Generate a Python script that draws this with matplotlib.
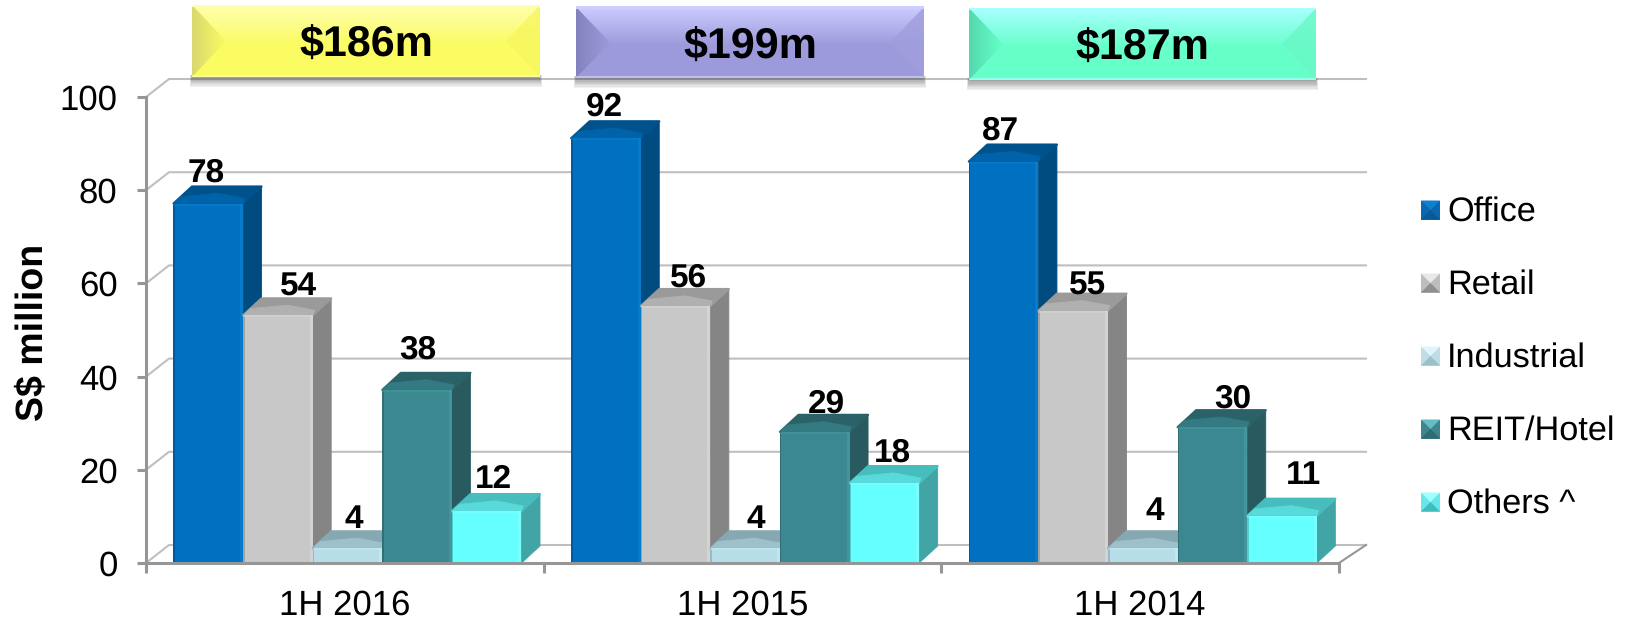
#!/usr/bin/env python3
"""Revenue by segment, 3D look column chart with banner totals."""
import numpy as np
import matplotlib; matplotlib.use("Agg")
import matplotlib.pyplot as plt
from matplotlib.patches import Polygon, Rectangle

plt.rcParams["font.family"] = ["Liberation Sans", "DejaVu Sans"]
plt.rcParams["text.hinting"] = "no_hinting"

periods = ["1H 2016", "1H 2015", "1H 2014"]
totals = ["$186m", "$199m", "$187m"]
segments = ["Office", "Retail", "Industrial", "REIT/Hotel", "Others ^"]
office = [78, 92, 87]
retail = [54, 56, 55]
industrial = [4, 4, 4]
reit_hotel = [38, 29, 30]
others = [12, 18, 11]
series = [office, retail, industrial, reit_hotel, others]
y_ticks = [0, 20, 40, 60, 80, 100]

# front, side, top back, top front, edge highlight
BAR_COL = [("#0070C0", "#004B80", "#00528C", "#0062A8", "#0A80D0"),
           ("#C8C8C8", "#858585", "#9A9A9A", "#B0B0B0", "#D8D8D8"),
           ("#B7DEE8", "#7AA0AB", "#85A8B3", "#9DC0CA", "#C8EAF2"),
           ("#3C8890", "#285A60", "#2B6268", "#347A82", "#479AA2"),
           ("#66FFFF", "#42A5A5", "#48BDBD", "#58DADA", "#80FFFF")]
LEG_COL = [("#0F7FD0", "#0A5A98", "#0868B0"), ("#E8E8E8", "#8F8F8F", "#BDBDBD"),
           ("#E2F4F8", "#9CC0CA", "#BFDDE5"), ("#66BDC2", "#2F6B72", "#3F858C"),
           ("#A0FFFF", "#3FBDBD", "#66E8E8")]
# label nudges in pixels (x, y above the front top of each bar), by period then segment
LABEL_DX = [[-2, 21, 6, 1, 7], [-2, 13, 11, 12, 8], [-3, 14, 12, 20, 21]]
LABEL_DY = [[30, 28, 29, 40, 32], [31, 28, 29, 28, 30], [30, 25, 37, 28, 40]]

BANNERS = [(192, 5, 540, 77, "#FFFFB0", "#FBFB62", "#D8D870", "#F6F660"),
           (576, 7, 924, 78, "#CDCDFF", "#9C9ADB", "#8482BE", "#A09EDC"),
           (969, 8, 1316, 80, "#A8FFFF", "#66FFC8", "#55D8AE", "#69F8C6")]

W, H = 1631, 620
AX_L, AX_R, AX_T, AX_B = 146, 1339, 97, 563
PX_X = (AX_R - AX_L) / 3
PX_Y = (AX_B - AX_T) / 100

fig = plt.figure(figsize=(W / 100, H / 100), dpi=100, facecolor="white")
ax = fig.add_axes([AX_L / W, 1 - AX_B / H, (AX_R - AX_L) / W, (AX_B - AX_T) / H])

BAR_W = 69.6 / PX_X
GROUP_PAD = 27.5 / PX_X
DEPTH_X = 18.5 / PX_X
DEPTH_Y = 17 / PX_Y
DROP = 4 / PX_Y
WALL_X = 23 / PX_X
WALL_Y = 18 / PX_Y
WALL_R = 27 / PX_X
GRID = "#BFBFBF"
AXC = "#969696"

# back wall and left wall
for v in y_ticks:
    ax.plot([0, WALL_X, 3 + WALL_R], [v, v + WALL_Y, v + WALL_Y], color=GRID, lw=1.5, zorder=1, clip_on=False)
ax.plot([3, 3 + WALL_R], [0, WALL_Y], color=AXC, lw=1.5, zorder=1, clip_on=False)

def poly(pts, col, z, lw=0.6):
    ax.add_patch(Polygon(pts, closed=True, facecolor=col, edgecolor=col, lw=lw, joinstyle="round", zorder=z, clip_on=False))

z = 2.0
for g, per in enumerate(periods):
    for s, vals in enumerate(series):
        front, side, top_b, top_f, hi = BAR_COL[s]
        v = vals[g]
        x0 = g + GROUP_PAD + s * BAR_W
        x1 = x0 + BAR_W
        t = v - DROP
        # side and top first, the front goes over them
        poly([(x1, 0), (x1 + DEPTH_X, DEPTH_Y), (x1 + DEPTH_X, t + DEPTH_Y), (x1, t)], side, z)
        poly([(x0, t), (x1, t), (x1 + DEPTH_X, t + DEPTH_Y), (x0 + DEPTH_X, t + DEPTH_Y)], top_b, z + 0.01, lw=1.6)
        poly([(x0, t), (x1, t), (x1 + 0.1 * DEPTH_X, t + 0.3 * DEPTH_Y), (x0 + 0.5 * BAR_W + 0.5 * DEPTH_X, t + 0.6 * DEPTH_Y), (x0 + 0.4 * DEPTH_X, t + 0.4 * DEPTH_Y)], top_f, z + 0.02)
        ax.bar(x0, t, BAR_W, align="edge", color=front, linewidth=0, zorder=z + 0.03)
        # bevel strips on the front face
        ax.bar(x1 - 3 / PX_X, t, 3 / PX_X, align="edge", color=hi, alpha=0.7, linewidth=0, zorder=z + 0.04)
        ax.bar(x0, t, 1.5 / PX_X, align="edge", color=side, alpha=0.55, linewidth=0, zorder=z + 0.04)
        ax.bar(x0, 2 / PX_Y, BAR_W, bottom=t - 2 / PX_Y, align="edge", color=hi, alpha=0.45, linewidth=0, zorder=z + 0.04)
        z += 0.1

# data labels on top of everything
for g in range(len(periods)):
    for s, vals in enumerate(series):
        xc = g + GROUP_PAD + (s + 0.5) * BAR_W
        ax.annotate(str(vals[g]), xy=(xc, vals[g] - DROP), xytext=(LABEL_DX[g][s] * 0.72, LABEL_DY[g][s] * 0.72),
                    textcoords="offset points", ha="center", va="center", fontsize=24, fontweight="bold",
                    color="black", zorder=20, annotation_clip=False)

ax.set_xlim(0, 3); ax.set_ylim(0, 100)
ax.patch.set_alpha(0)
for sp in ("top", "right"):
    ax.spines[sp].set_visible(False)
for sp in ("left", "bottom"):
    ax.spines[sp].set_color(AXC); ax.spines[sp].set_linewidth(2.2); ax.spines[sp].set_zorder(15)
ax.set_yticks(y_ticks)
ax.tick_params(axis="y", length=6.5, width=2.2, color=AXC, labelsize=25, pad=14)
ax.set_xticks([0, 1, 2, 3]); ax.set_xticklabels([])
ax.tick_params(axis="x", which="major", length=7.5, width=2.2, color=AXC)
ax.set_xticks([0.5, 1.5, 2.5], minor=True); ax.set_xticklabels(periods, minor=True)
ax.tick_params(axis="x", which="minor", length=0, labelsize=25, pad=19)
ax.set_ylabel("S$ million", fontsize=27, fontweight="bold")
ax.yaxis.set_label_coords((51 - AX_L) / (AX_R - AX_L), (AX_B - 332) / (AX_B - AX_T))

# overlay in pixel coordinates for banners and legend
ov = fig.add_axes([0, 0, 1, 1], zorder=5)
ov.patch.set_alpha(0); ov.axis("off")

def grad(c0, c1, n=64):
    a = np.array(matplotlib.colors.to_rgb(c0)); b = np.array(matplotlib.colors.to_rgb(c1))
    return a + (b - a) * np.linspace(0, 1, n)[:, None]

for (x0, y0, x1, y1, c_top, c_mid, c_left, c_right), label in zip(BANNERS, totals):
    for k in range(8):
        ov.add_patch(Rectangle((x0 - 2 + k * 0.3, y1 - 2), x1 - x0 + 4 - k * 0.6, 12 - k * 1.3, facecolor="#404040", alpha=0.07, lw=0, zorder=1))
    img = grad(c_top, c_mid)[:, None, :]
    ov.imshow(img, extent=(x0, x1, y0 + 0.55 * (y1 - y0), y0), aspect="auto", zorder=2)
    ov.add_patch(Rectangle((x0, y0 + 0.55 * (y1 - y0)), x1 - x0, 0.45 * (y1 - y0), facecolor=c_mid, lw=0, zorder=2))
    ym = (y0 + y1) / 2
    tri = Polygon([(x0, y0), (x0 + 34, ym), (x0, y1)], closed=True, transform=ov.transData, facecolor="none", lw=0)
    ov.add_patch(tri)
    im = ov.imshow(grad(c_left, c_mid)[None, :, :], extent=(x0, x0 + 34, y1, y0), aspect="auto", zorder=3)
    im.set_clip_path(tri)
    ov.add_patch(Polygon([(x1, y0), (x1 - 34, ym), (x1, y1)], closed=True, facecolor=c_right, alpha=0.8, lw=0, zorder=3))
    ov.plot([x0, x1], [y1 - 1, y1 - 1], color=c_top, lw=1.5, alpha=0.7, zorder=4, solid_capstyle="butt")
    ov.plot([x0, x1], [y0 + 1, y0 + 1], color=c_top, lw=1.5, zorder=4, solid_capstyle="butt")
    ov.text((x0 + x1) / 2, ym + 5, label, ha="center", va="center", fontsize=31, fontweight="bold", color="black", zorder=6)

leg_y = [210, 283, 356, 429, 502]
for yc, name, (c_hi, c_lo, c_mid) in zip(leg_y, segments, LEG_COL):
    x0, x1, y0, y1 = 1421, 1440, yc - 9.5, yc + 9.5
    xm = (x0 + x1) / 2
    ov.add_patch(Rectangle((x0, y0), x1 - x0, y1 - y0, facecolor=c_mid, lw=0, zorder=2))
    ov.add_patch(Polygon([(x0, y0), (x1, y0), (xm, yc)], closed=True, facecolor=c_hi, lw=0, zorder=3))
    ov.add_patch(Polygon([(x0, y1), (x1, y1), (xm, yc)], closed=True, facecolor=c_lo, lw=0, zorder=3))
    ov.text(1447, yc + 2, name, ha="left", va="center", fontsize=24.7, color="black", zorder=6)

ov.set_xlim(0, W); ov.set_ylim(H, 0)
fig.savefig("out.png", dpi=100)
